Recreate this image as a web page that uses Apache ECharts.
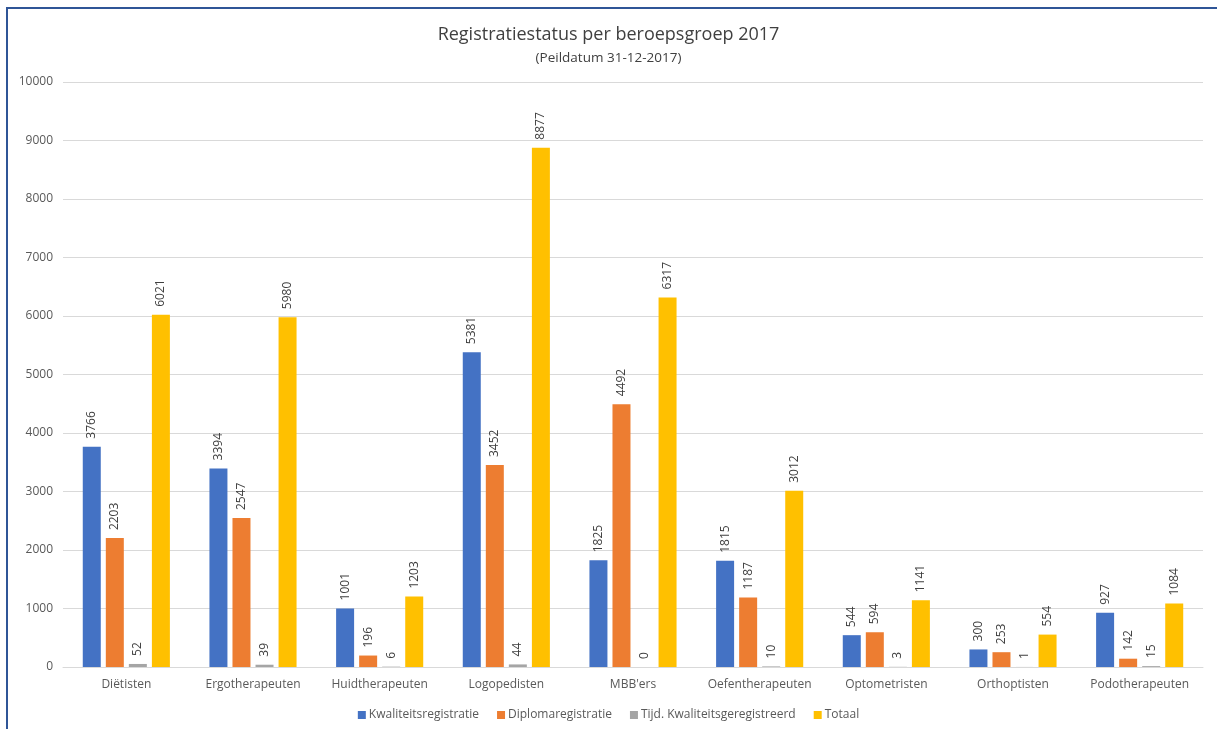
<!DOCTYPE html>
<html>
<head>
<meta charset="utf-8">
<script src="https://cdn.jsdelivr.net/npm/echarts@6/dist/echarts.min.js"></script>
<style>
html,body{margin:0;padding:0;width:1217px;height:729px;overflow:hidden;background:#fff;}
#frame{position:absolute;left:6px;top:7px;width:1240px;height:760px;border:2px solid #2F5597;box-sizing:border-box;pointer-events:none;z-index:2;}
#chart{position:absolute;left:0;top:0;width:1217px;height:729px;}
</style>
</head>
<body>
<div id="frame"></div>
<div id="chart"></div>
<script>
const categories = ["Diëtisten","Ergotherapeuten","Huidtherapeuten","Logopedisten","MBB'ers","Oefentherapeuten","Optometristen","Orthoptisten","Podotherapeuten"];
const kwaliteitsregistratie = [3766, 3394, 1001, 5381, 1825, 1815, 544, 300, 927];
const diplomaregistratie = [2203, 2547, 196, 3452, 4492, 1187, 594, 253, 142];
const tijdKwaliteit = [52, 39, 6, 44, 0, 10, 3, 1, 15];
const totaal = [6021, 5980, 1203, 8877, 6317, 3012, 1141, 554, 1084];
const seriesNames = ["Kwaliteitsregistratie","Diplomaregistratie","Tijd. Kwaliteitsgeregistreerd","Totaal"];
const colors = ["#4472C4","#ED7D31","#A5A5A5","#FFC000"];

const FONT = '"Open Sans", "Noto Sans", sans-serif';
const chart = echarts.init(document.getElementById('chart'), null, {renderer:'canvas'});
const label = {
  show: true, position: 'top', rotate: 90, align: 'left', verticalAlign: 'middle',
  distance: 8, color: '#404040', fontSize: 12, fontFamily: FONT
};
const dataSets = [kwaliteitsregistratie, diplomaregistratie, tijdKwaliteit, totaal];
chart.setOption({
  animation: false,
  color: colors,
  title: {
    text: 'Registratiestatus per beroepsgroep 2017',
    subtext: '(Peildatum 31-12-2017)',
    left: 'center', top: 21, itemGap: 7,
    textStyle: {fontFamily: FONT, fontSize: 18, fontWeight: 'normal', color: '#404040'},
    subtextStyle: {fontFamily: FONT, fontSize: 13.5, color: '#404040'}
  },
  legend: {
    bottom: 3, left: 'center', itemWidth: 8, itemHeight: 8, itemGap: 18,
    icon: 'rect',
    textStyle: {fontFamily: FONT, fontSize: 12, color: '#595959', padding:[0,0,0,-2]},
    data: seriesNames
  },
  grid: {left: 63, right: 14, top: 82, bottom: 62, containLabel: false},
  xAxis: {
    type: 'category', data: categories,
    axisLine: {lineStyle: {color: '#D9D9D9', width: 1}},
    axisTick: {show: false},
    axisLabel: {color: '#595959', fontFamily: FONT, fontSize: 12, margin: 12, interval: 0}
  },
  yAxis: {
    type: 'value', min: 0, max: 10000, interval: 1000,
    axisLine: {show: false}, axisTick: {show: false},
    axisLabel: {color: '#595959', fontFamily: FONT, fontSize: 12, margin: 10, formatter: v => String(v)},
    splitLine: {lineStyle: {color: '#D9D9D9', width: 1}}
  },
  series: seriesNames.map((n, i) => ({
    name: n, type: 'bar', data: dataSets[i],
    barWidth: 18, barGap: '28%',
    label: label
  }))
});
</script>
</body>
</html>
